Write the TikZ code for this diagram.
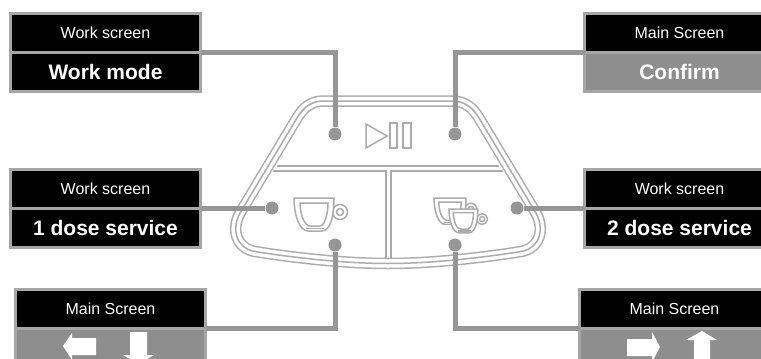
\documentclass[tikz,border=0pt]{standalone}
\usepackage{fontspec}
\setmainfont{Liberation Sans}
\usetikzlibrary{positioning}
\definecolor{boxedge}{HTML}{A6A6A6}
\definecolor{boxgray}{HTML}{8E8E8E}
\definecolor{wiregray}{HTML}{969696}
\definecolor{panelgray}{HTML}{ACACAC}

\begin{document}
\begin{tikzpicture}[
    x=1pt, y=-1pt,
    screenbox/.style={
        draw=boxedge, line width=3pt, outer sep=0pt, inner sep=0pt,
        rectangle, minimum width=190pt, text=white,
    },
    titlebox/.style={
        screenbox, fill=black, minimum height=39pt,
        font=\fontsize{16}{18}\selectfont,
    },
    actionbox/.style={
        screenbox, fill=#1, minimum height=39.5pt,
        font=\bfseries\fontsize{21}{24}\selectfont,
    },
    keydot/.style={circle, fill=wiregray, inner sep=0pt, minimum size=13pt},
    leader/.style={draw=wiregray, line width=5pt},
    keyline/.style={draw=panelgray, line width=1.5pt},
    glyph/.style={fill=white, draw=none},
    panelshape/.style={insert path={
        (323,101) -- (452,101) .. controls (465,101) and (473,108) .. (479,118)
        -- (536,213) .. controls (546,232) and (538,250) .. (518,252)
        .. controls (480,258) and (430,263.5) .. (388,263.5)
        .. controls (346,263.5) and (296,258) .. (258,252)
        .. controls (238,250) and (230,232) .. (240,213)
        -- (297,118) .. controls (303,108) and (311,101) .. (323,101) -- cycle}},
    cupicon/.pic={
        \draw[keyline, fill=white] (46,14) circle (7.5);
        \draw[keyline] (46,14) circle (3.5);
        \draw[keyline, fill=white] (0,0) -- (40,0) .. controls (40,16) and (37,33) .. (28,33)
            -- (14,33) .. controls (5,33) and (0,16) .. (0,0) -- cycle;
        \draw[keyline] (6,5) -- (34,5) .. controls (34,15) and (31,28) .. (26,28)
            -- (16,28) .. controls (10,28) and (6,15) .. (6,5) -- cycle;
        \draw[keyline] (12,30.5) -- (30,30.5);
    },
]
\clip (0,0) rectangle (761,359);

% control panel
\draw[draw=panelgray, line width=11.5pt, panelshape];
\draw[draw=white, line width=8.5pt, panelshape];
\draw[draw=panelgray, line width=1.5pt, panelshape];
\draw[keyline, line width=2pt] (277,166) -- (499,166);
\draw[keyline, line width=2pt] (273,171) -- (386,171) -- (386,259);
\draw[keyline, line width=2pt] (503,171) -- (391,171) -- (391,259);

% play and pause mark
\draw[keyline] (366,124) -- (366,148) -- (387,136) -- cycle;
\draw[keyline] (390,123) rectangle (397,148);
\draw[keyline] (403,123) rectangle (411,148);

% cups
\pic at (294,198) {cupicon};
\pic[scale=0.8] at (434,198) {cupicon};
\pic[scale=0.72] at (449,209) {cupicon};

% screens
\node[titlebox] (worktitle) at (105.5,32.5) {Work screen};
\node[actionbox=black, below=0pt of worktitle] (workmode) {Work mode};

\node[titlebox] (confirmtitle) at (679.5,32.5) {Main Screen};
\node[actionbox=boxgray, below=0pt of confirmtitle] (confirm) {Confirm};

\node[titlebox] (onetitle) at (105.5,188.5) {Work screen};
\node[actionbox=black, below=0pt of onetitle] (onedose) {1 dose service};

\node[titlebox] (twotitle) at (679.5,188.5) {Work screen};
\node[actionbox=black, below=0pt of twotitle] (twodose) {2 dose service};

\node[titlebox] (lefttitle) at (110.5,308.5) {Main Screen};
\node[actionbox=boxgray, below=0pt of lefttitle] (leftkeys) {};

\node[titlebox] (righttitle) at (674.5,308.5) {Main Screen};
\node[actionbox=boxgray, below=0pt of righttitle] (rightkeys) {};

% arrows on the grey screens
\fill[glyph] (63,346) -- (72,333) -- (72,338) -- (96,338) -- (96,355) -- (72,355) -- (72,360) -- cycle;
\fill[glyph] (130,332) -- (147,332) -- (147,355) -- (154,355) -- (138.5,364) -- (123,355) -- (130,355) -- cycle;
\fill[glyph] (660,347) -- (652,332) -- (652,339) -- (627,339) -- (627,356) -- (652,356) -- (652,362) -- cycle;
\fill[glyph] (702,331) -- (717,340) -- (710,340) -- (710,360) -- (694,360) -- (694,340) -- (686,340) -- cycle;

% key points
\node[keydot] (playleft) at (335,134) {};
\node[keydot] (playright) at (455,134) {};
\node[keydot] (cupone) at (272,208) {};
\node[keydot] (cuptwo) at (517,208) {};
\node[keydot] (cuponelow) at (335,245) {};
\node[keydot] (cuptwolow) at (455,245) {};

\draw[leader] (worktitle.south east) -| (playleft);
\draw[leader] (confirmtitle.south west) -| (playright);
\draw[leader] (onetitle.south east) -- (cupone);
\draw[leader] (twotitle.south west) -- (cuptwo);
\draw[leader] (lefttitle.south east) -| (cuponelow);
\draw[leader] (righttitle.south west) -| (cuptwolow);

\end{tikzpicture}
\end{document}
